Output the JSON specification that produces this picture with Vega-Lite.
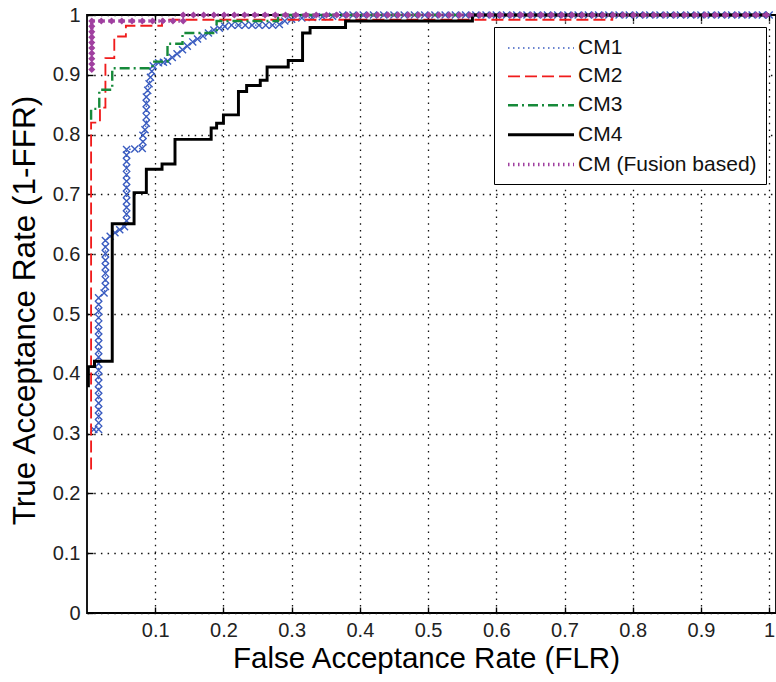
{
  "$schema": "https://vega.github.io/schema/vega-lite/v6.json",
  "width": 689,
  "height": 598,
  "autosize": {"type": "none"},
  "padding": {"left": 87, "top": 15, "right": 0, "bottom": 69},
  "background": "white",
  "config": {
    "font": "Liberation Sans",
    "view": {"stroke": "#000", "strokeWidth": 1.8},
    "axis": {
      "labelFont": "Liberation Sans", "labelFontSize": 20, "labelColor": "#222",
      "titleFont": "Liberation Sans", "titleFontSize": 29.5, "titleFontWeight": "normal", "titleColor": "#000",
      "domain": false, "ticks": true, "tickColor": "#000", "tickSize": -6, "tickWidth": 1.4, "labelPadding": 13,
      "grid": true, "gridColor": "#111", "gridDash": [1.5, 5.2], "gridWidth": 1.3
    },
    "legend": {
      "labelFont": "Liberation Sans", "labelFontSize": 21, "labelColor": "#111", "labelLimit": 400,
      "symbolType": "M-3,0H3", "symbolSize": 484, "symbolOffset": 25, "labelOffset": 24, "rowPadding": 6.4, "padding": 9,
      "strokeColor": "#000", "fillColor": "#fff", "cornerRadius": 0, "symbolOpacity": 1
    }
  },
  "resolve": {"axis": {"x": "independent"}},
  "data": {"values": [
    {"s":"CM1","x":0.010,"y":0.307},{"s":"CM1","x":0.017,"y":0.307},{"s":"CM1","x":0.017,"y":0.318},{"s":"CM1","x":0.017,"y":0.329},{"s":"CM1","x":0.017,"y":0.340},{"s":"CM1","x":0.017,"y":0.351},{"s":"CM1","x":0.017,"y":0.362},{"s":"CM1","x":0.017,"y":0.373},{"s":"CM1","x":0.017,"y":0.384},{"s":"CM1","x":0.017,"y":0.395},{"s":"CM1","x":0.017,"y":0.406},{"s":"CM1","x":0.017,"y":0.417},{"s":"CM1","x":0.017,"y":0.428},{"s":"CM1","x":0.017,"y":0.439},{"s":"CM1","x":0.017,"y":0.450},{"s":"CM1","x":0.017,"y":0.461},{"s":"CM1","x":0.017,"y":0.472},{"s":"CM1","x":0.017,"y":0.483},{"s":"CM1","x":0.017,"y":0.494},{"s":"CM1","x":0.017,"y":0.505},{"s":"CM1","x":0.017,"y":0.516},{"s":"CM1","x":0.017,"y":0.527},
    {"s":"CM1","x":0.025,"y":0.535},{"s":"CM1","x":0.027,"y":0.546},{"s":"CM1","x":0.027,"y":0.557},{"s":"CM1","x":0.027,"y":0.568},{"s":"CM1","x":0.027,"y":0.579},{"s":"CM1","x":0.027,"y":0.590},{"s":"CM1","x":0.027,"y":0.601},{"s":"CM1","x":0.027,"y":0.612},{"s":"CM1","x":0.027,"y":0.623},
    {"s":"CM1","x":0.034,"y":0.630},{"s":"CM1","x":0.041,"y":0.636},{"s":"CM1","x":0.048,"y":0.641},{"s":"CM1","x":0.055,"y":0.646},
    {"s":"CM1","x":0.058,"y":0.656},{"s":"CM1","x":0.058,"y":0.667},{"s":"CM1","x":0.058,"y":0.678},{"s":"CM1","x":0.058,"y":0.689},{"s":"CM1","x":0.058,"y":0.700},{"s":"CM1","x":0.058,"y":0.711},{"s":"CM1","x":0.058,"y":0.722},{"s":"CM1","x":0.058,"y":0.733},{"s":"CM1","x":0.058,"y":0.744},{"s":"CM1","x":0.058,"y":0.755},{"s":"CM1","x":0.058,"y":0.766},{"s":"CM1","x":0.058,"y":0.775},
    {"s":"CM1","x":0.070,"y":0.776},{"s":"CM1","x":0.081,"y":0.777},{"s":"CM1","x":0.082,"y":0.788},{"s":"CM1","x":0.082,"y":0.799},{"s":"CM1","x":0.085,"y":0.808},{"s":"CM1","x":0.087,"y":0.819},{"s":"CM1","x":0.087,"y":0.830},{"s":"CM1","x":0.087,"y":0.841},{"s":"CM1","x":0.087,"y":0.852},{"s":"CM1","x":0.087,"y":0.863},{"s":"CM1","x":0.089,"y":0.874},{"s":"CM1","x":0.091,"y":0.885},{"s":"CM1","x":0.093,"y":0.896},{"s":"CM1","x":0.095,"y":0.906},{"s":"CM1","x":0.097,"y":0.915},
    {"s":"CM1","x":0.105,"y":0.920},{"s":"CM1","x":0.112,"y":0.921},{"s":"CM1","x":0.118,"y":0.923},{"s":"CM1","x":0.125,"y":0.929},{"s":"CM1","x":0.132,"y":0.935},{"s":"CM1","x":0.140,"y":0.942},{"s":"CM1","x":0.147,"y":0.948},{"s":"CM1","x":0.155,"y":0.955},{"s":"CM1","x":0.162,"y":0.960},{"s":"CM1","x":0.170,"y":0.965},{"s":"CM1","x":0.178,"y":0.970},{"s":"CM1","x":0.186,"y":0.975},{"s":"CM1","x":0.194,"y":0.978},{"s":"CM1","x":0.202,"y":0.981},
    {"s":"CM1","x":0.212,"y":0.983},{"s":"CM1","x":0.222,"y":0.983},{"s":"CM1","x":0.232,"y":0.983},{"s":"CM1","x":0.242,"y":0.983},{"s":"CM1","x":0.252,"y":0.983},{"s":"CM1","x":0.262,"y":0.983},{"s":"CM1","x":0.272,"y":0.983},{"s":"CM1","x":0.282,"y":0.984},{"s":"CM1","x":0.290,"y":0.990},{"s":"CM1","x":0.300,"y":0.993},{"s":"CM1","x":0.315,"y":0.995},{"s":"CM1","x":0.330,"y":0.996},{"s":"CM1","x":0.345,"y":0.997},{"s":"CM1","x":0.360,"y":0.998},
    {"s":"CM1","x":0.375,"y":1},{"s":"CM1","x":0.390,"y":1},{"s":"CM1","x":0.405,"y":1},{"s":"CM1","x":0.420,"y":1},{"s":"CM1","x":0.435,"y":1},{"s":"CM1","x":0.450,"y":1},{"s":"CM1","x":0.465,"y":1},{"s":"CM1","x":0.480,"y":1},{"s":"CM1","x":0.495,"y":1},{"s":"CM1","x":0.510,"y":1},{"s":"CM1","x":0.525,"y":1},{"s":"CM1","x":0.540,"y":1},{"s":"CM1","x":0.555,"y":1},{"s":"CM1","x":0.570,"y":1},{"s":"CM1","x":0.585,"y":1},{"s":"CM1","x":0.600,"y":1},{"s":"CM1","x":0.615,"y":1},{"s":"CM1","x":0.630,"y":1},{"s":"CM1","x":0.645,"y":1},{"s":"CM1","x":0.660,"y":1},{"s":"CM1","x":0.675,"y":1},{"s":"CM1","x":0.690,"y":1},{"s":"CM1","x":0.705,"y":1},{"s":"CM1","x":0.720,"y":1},{"s":"CM1","x":0.735,"y":1},{"s":"CM1","x":0.750,"y":1},{"s":"CM1","x":0.765,"y":1},{"s":"CM1","x":0.780,"y":1},{"s":"CM1","x":0.795,"y":1},{"s":"CM1","x":0.810,"y":1},{"s":"CM1","x":0.825,"y":1},{"s":"CM1","x":0.840,"y":1},{"s":"CM1","x":0.855,"y":1},{"s":"CM1","x":0.870,"y":1},{"s":"CM1","x":0.885,"y":1},{"s":"CM1","x":0.900,"y":1},{"s":"CM1","x":0.915,"y":1},{"s":"CM1","x":0.930,"y":1},{"s":"CM1","x":0.945,"y":1},{"s":"CM1","x":0.960,"y":1},{"s":"CM1","x":0.975,"y":1},{"s":"CM1","x":0.990,"y":1},{"s":"CM1","x":1.0,"y":1},

    {"s":"CM2","x":0.006,"y":0.24},{"s":"CM2","x":0.006,"y":0.82},{"s":"CM2","x":0.019,"y":0.82},{"s":"CM2","x":0.019,"y":0.845},{"s":"CM2","x":0.027,"y":0.845},{"s":"CM2","x":0.027,"y":0.928},{"s":"CM2","x":0.040,"y":0.928},{"s":"CM2","x":0.040,"y":0.964},{"s":"CM2","x":0.057,"y":0.964},{"s":"CM2","x":0.057,"y":0.982},{"s":"CM2","x":0.110,"y":0.982},{"s":"CM2","x":0.110,"y":0.992},{"s":"CM2","x":0.770,"y":0.992},{"s":"CM2","x":0.770,"y":1},{"s":"CM2","x":1.0,"y":1},

    {"s":"CM3","x":0.006,"y":0.825},{"s":"CM3","x":0.006,"y":0.843},{"s":"CM3","x":0.018,"y":0.843},{"s":"CM3","x":0.018,"y":0.875},{"s":"CM3","x":0.037,"y":0.875},{"s":"CM3","x":0.037,"y":0.911},{"s":"CM3","x":0.096,"y":0.911},{"s":"CM3","x":0.096,"y":0.922},{"s":"CM3","x":0.118,"y":0.922},{"s":"CM3","x":0.118,"y":0.952},{"s":"CM3","x":0.140,"y":0.952},{"s":"CM3","x":0.140,"y":0.970},{"s":"CM3","x":0.190,"y":0.970},{"s":"CM3","x":0.190,"y":0.990},{"s":"CM3","x":0.280,"y":0.990},{"s":"CM3","x":0.280,"y":1},{"s":"CM3","x":1.0,"y":1},

    {"s":"CM4","x":0.0,"y":0.38},{"s":"CM4","x":0.002,"y":0.38},{"s":"CM4","x":0.002,"y":0.412},{"s":"CM4","x":0.011,"y":0.412},{"s":"CM4","x":0.011,"y":0.421},{"s":"CM4","x":0.037,"y":0.421},{"s":"CM4","x":0.037,"y":0.651},{"s":"CM4","x":0.069,"y":0.651},{"s":"CM4","x":0.069,"y":0.703},{"s":"CM4","x":0.087,"y":0.703},{"s":"CM4","x":0.087,"y":0.742},{"s":"CM4","x":0.110,"y":0.742},{"s":"CM4","x":0.110,"y":0.751},{"s":"CM4","x":0.129,"y":0.751},{"s":"CM4","x":0.129,"y":0.792},{"s":"CM4","x":0.182,"y":0.792},{"s":"CM4","x":0.182,"y":0.811},{"s":"CM4","x":0.190,"y":0.811},{"s":"CM4","x":0.190,"y":0.819},{"s":"CM4","x":0.200,"y":0.819},{"s":"CM4","x":0.200,"y":0.833},{"s":"CM4","x":0.222,"y":0.833},{"s":"CM4","x":0.222,"y":0.872},{"s":"CM4","x":0.234,"y":0.872},{"s":"CM4","x":0.234,"y":0.882},{"s":"CM4","x":0.254,"y":0.882},{"s":"CM4","x":0.254,"y":0.891},{"s":"CM4","x":0.264,"y":0.891},{"s":"CM4","x":0.264,"y":0.913},{"s":"CM4","x":0.295,"y":0.913},{"s":"CM4","x":0.295,"y":0.924},{"s":"CM4","x":0.316,"y":0.924},{"s":"CM4","x":0.316,"y":0.970},{"s":"CM4","x":0.327,"y":0.970},{"s":"CM4","x":0.327,"y":0.979},{"s":"CM4","x":0.379,"y":0.979},{"s":"CM4","x":0.379,"y":0.990},{"s":"CM4","x":0.565,"y":0.990},{"s":"CM4","x":0.565,"y":1},{"s":"CM4","x":1.0,"y":1},

    {"s":"CM (Fusion based)","x":0.007,"y":0.909},{"s":"CM (Fusion based)","x":0.007,"y":0.918},{"s":"CM (Fusion based)","x":0.007,"y":0.927},{"s":"CM (Fusion based)","x":0.007,"y":0.936},{"s":"CM (Fusion based)","x":0.007,"y":0.945},{"s":"CM (Fusion based)","x":0.007,"y":0.954},{"s":"CM (Fusion based)","x":0.007,"y":0.963},{"s":"CM (Fusion based)","x":0.007,"y":0.972},{"s":"CM (Fusion based)","x":0.007,"y":0.981},{"s":"CM (Fusion based)","x":0.007,"y":0.990},
    {"s":"CM (Fusion based)","x":0.021,"y":0.990},{"s":"CM (Fusion based)","x":0.036,"y":0.990},{"s":"CM (Fusion based)","x":0.051,"y":0.990},{"s":"CM (Fusion based)","x":0.066,"y":0.990},{"s":"CM (Fusion based)","x":0.081,"y":0.990},{"s":"CM (Fusion based)","x":0.096,"y":0.990},{"s":"CM (Fusion based)","x":0.111,"y":0.990},{"s":"CM (Fusion based)","x":0.126,"y":0.990},{"s":"CM (Fusion based)","x":0.141,"y":0.990},{"s":"CM (Fusion based)","x":0.141,"y":1},
    {"s":"CM (Fusion based)","x":0.156,"y":1},{"s":"CM (Fusion based)","x":0.171,"y":1},{"s":"CM (Fusion based)","x":0.186,"y":1},{"s":"CM (Fusion based)","x":0.201,"y":1},{"s":"CM (Fusion based)","x":0.216,"y":1},{"s":"CM (Fusion based)","x":0.231,"y":1},{"s":"CM (Fusion based)","x":0.246,"y":1},{"s":"CM (Fusion based)","x":0.261,"y":1},{"s":"CM (Fusion based)","x":0.276,"y":1},{"s":"CM (Fusion based)","x":0.291,"y":1},{"s":"CM (Fusion based)","x":0.306,"y":1},{"s":"CM (Fusion based)","x":0.321,"y":1},{"s":"CM (Fusion based)","x":0.336,"y":1},{"s":"CM (Fusion based)","x":0.351,"y":1},{"s":"CM (Fusion based)","x":0.366,"y":1},{"s":"CM (Fusion based)","x":0.381,"y":1},{"s":"CM (Fusion based)","x":0.396,"y":1},{"s":"CM (Fusion based)","x":0.411,"y":1},{"s":"CM (Fusion based)","x":0.426,"y":1},{"s":"CM (Fusion based)","x":0.441,"y":1},{"s":"CM (Fusion based)","x":0.456,"y":1},{"s":"CM (Fusion based)","x":0.471,"y":1},{"s":"CM (Fusion based)","x":0.486,"y":1},{"s":"CM (Fusion based)","x":0.501,"y":1},{"s":"CM (Fusion based)","x":0.516,"y":1},{"s":"CM (Fusion based)","x":0.531,"y":1},{"s":"CM (Fusion based)","x":0.546,"y":1},{"s":"CM (Fusion based)","x":0.561,"y":1},{"s":"CM (Fusion based)","x":0.576,"y":1},{"s":"CM (Fusion based)","x":0.591,"y":1},{"s":"CM (Fusion based)","x":0.606,"y":1},{"s":"CM (Fusion based)","x":0.621,"y":1},{"s":"CM (Fusion based)","x":0.636,"y":1},{"s":"CM (Fusion based)","x":0.651,"y":1},{"s":"CM (Fusion based)","x":0.666,"y":1},{"s":"CM (Fusion based)","x":0.681,"y":1},{"s":"CM (Fusion based)","x":0.696,"y":1},{"s":"CM (Fusion based)","x":0.711,"y":1},{"s":"CM (Fusion based)","x":0.726,"y":1},{"s":"CM (Fusion based)","x":0.741,"y":1},{"s":"CM (Fusion based)","x":0.756,"y":1},{"s":"CM (Fusion based)","x":0.771,"y":1},{"s":"CM (Fusion based)","x":0.786,"y":1},{"s":"CM (Fusion based)","x":0.801,"y":1},{"s":"CM (Fusion based)","x":0.816,"y":1},{"s":"CM (Fusion based)","x":0.831,"y":1},{"s":"CM (Fusion based)","x":0.846,"y":1},{"s":"CM (Fusion based)","x":0.861,"y":1},{"s":"CM (Fusion based)","x":0.876,"y":1},{"s":"CM (Fusion based)","x":0.891,"y":1},{"s":"CM (Fusion based)","x":0.906,"y":1},{"s":"CM (Fusion based)","x":0.921,"y":1},{"s":"CM (Fusion based)","x":0.936,"y":1},{"s":"CM (Fusion based)","x":0.951,"y":1},{"s":"CM (Fusion based)","x":0.966,"y":1},{"s":"CM (Fusion based)","x":0.981,"y":1},{"s":"CM (Fusion based)","x":0.996,"y":1}
  ]},
  "encoding": {
    "x": {"field": "x", "type": "quantitative",
      "scale": {"domain": [0, 1.01], "nice": false, "zero": false}, "axis": null},
    "y": {"field": "y", "type": "quantitative",
      "scale": {"domain": [0, 1], "nice": false, "zero": false},
      "axis": {"values": [0,0.1,0.2,0.3,0.4,0.5,0.6,0.7,0.8,0.9,1], "format": "~g",
        "title": "True Acceptance Rate (1-FFR)", "titleFontSize": 31.5, "titleX": -62, "titleY": 295, "titleAngle": -90, "titleAlign": "center", "titleBaseline": "middle"}}
  },
  "layer": [
    {
      "transform": [{"filter": "datum.s === 'CM1'"}],
      "mark": {"type": "line", "interpolate": "linear"},
      "encoding": {
        "x": {"field": "x", "type": "quantitative",
          "scale": {"domain": [0, 1.01], "nice": false, "zero": false},
          "axis": {"values": [0.1,0.2,0.3,0.4,0.5,0.6,0.7,0.8,0.9,1], "format": "~g", "orient": "bottom",
            "title": "False Acceptance Rate (FLR)", "titleX": 339, "titleY": 54, "titleAlign": "center", "titleBaseline": "alphabetic"}},
        "color": {"field": "s", "type": "nominal", "scale": {"domain": ["CM1","CM2","CM3","CM4","CM (Fusion based)"], "range": ["#3a5cc0","#f01c1c","#168a3a","#000000","#a040a0"]}, "legend": {"title": null, "orient": "none", "legendX": 407, "legendY": 12, "symbolType": "M-3,0H3"}},
        "strokeDash": {"field": "s", "type": "nominal", "scale": {"domain": ["CM1","CM2","CM3","CM4","CM (Fusion based)"], "range": [[1.5,3.5],[12,5],[10,4,2,4],[1,0],[1.5,3.5]]}, "legend": {"title": null, "orient": "none", "legendX": 407, "legendY": 12, "symbolType": "M-3,0H3"}},
        "strokeWidth": {"field": "s", "type": "nominal", "scale": {"domain": ["CM1","CM2","CM3","CM4","CM (Fusion based)"], "range": [1.3,3.5,3,3.5,1.8]}, "legend": {"title": null, "orient": "none", "legendX": 407, "legendY": 12, "symbolType": "M-3,0H3"}},
        "order": [{"field": "x", "type": "quantitative"}, {"field": "y", "type": "quantitative"}]
      }
    },
    {
      "transform": [{"filter": "datum.s === 'CM1'"}],
      "mark": {"type": "point", "shape": "M-1,-1L1,1M-1,1L1,-1", "filled": false, "color": "#3a5cc0", "strokeWidth": 1.4, "size": 50, "opacity": 1},
      "encoding": {
        "x": {"field": "x", "type": "quantitative",
          "scale": {"domain": [0, 1.01], "nice": false, "zero": false},
          "axis": {"values": [0.1,0.2,0.3,0.4,0.5,0.6,0.7,0.8,0.9,1], "orient": "top", "labels": false, "grid": false, "title": null}}
      }
    },
    {
      "transform": [{"filter": "datum.s === 'CM2' || datum.s === 'CM3' || datum.s === 'CM4' || datum.s === 'CM (Fusion based)'"}],
      "mark": {"type": "line", "interpolate": "linear"},
      "encoding": {
        "color": {"field": "s", "type": "nominal", "scale": {"domain": ["CM1","CM2","CM3","CM4","CM (Fusion based)"], "range": ["#3a5cc0","#f01c1c","#168a3a","#000000","#a040a0"]}, "legend": {"title": null, "orient": "none", "legendX": 407, "legendY": 12, "symbolType": "M-3,0H3"}},
        "strokeDash": {"field": "s", "type": "nominal", "scale": {"domain": ["CM1","CM2","CM3","CM4","CM (Fusion based)"], "range": [[1.5,3.5],[12,5],[10,4,2,4],[1,0],[1.5,3.5]]}, "legend": {"title": null, "orient": "none", "legendX": 407, "legendY": 12, "symbolType": "M-3,0H3"}},
        "strokeWidth": {"field": "s", "type": "nominal", "scale": {"domain": ["CM1","CM2","CM3","CM4","CM (Fusion based)"], "range": [1.3,3.5,3,3.5,1.8]}, "legend": {"title": null, "orient": "none", "legendX": 407, "legendY": 12, "symbolType": "M-3,0H3"}},
        "order": [{"field": "x", "type": "quantitative"}, {"field": "y", "type": "quantitative"}]
      }
    },
    {
      "transform": [{"filter": "datum.s === 'CM (Fusion based)'"}],
      "mark": {"type": "point", "shape": "diamond", "filled": true, "color": "#a040a0", "size": 50, "opacity": 1}
    }
  ]
}
